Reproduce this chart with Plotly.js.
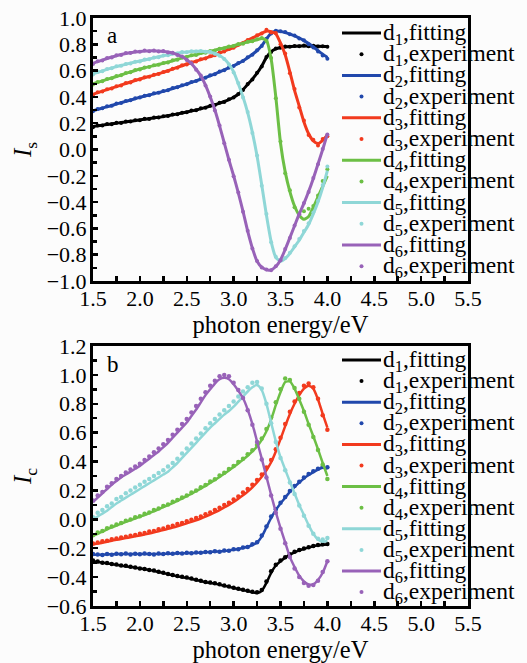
<!DOCTYPE html>
<html>
<head>
<meta charset="utf-8">
<script src="https://cdn.plot.ly/plotly-3.0.1.min.js"></script>
<style>html,body{margin:0;padding:0;background:#fcfcfc;}#chart{width:527px;height:663px;}</style>
</head>
<body>
<div id="chart"></div>
<script>
// photon energy grid (eV)
const energy = [1.50,1.55,1.60,1.65,1.70,1.75,1.80,1.85,1.90,1.95,
  2.00,2.05,2.10,2.15,2.20,2.25,2.30,2.35,2.40,2.45,
  2.50,2.55,2.60,2.65,2.70,2.75,2.80,2.85,2.90,2.95,
  3.00,3.05,3.10,3.15,3.20,3.25,3.30,3.35,3.40,3.45,
  3.50,3.55,3.60,3.65,3.70,3.75,3.80,3.85,3.90,3.95,4.00];

const seriesNames = ["d<sub>1</sub>","d<sub>2</sub>","d<sub>3</sub>","d<sub>4</sub>","d<sub>5</sub>","d<sub>6</sub>"];

// ---- panel a : I_s ----
const isFitD1 = [.175,.18,.185,.19,.195,.20,.205,.21,.215,.22,
  .225,.23,.235,.24,.245,.25,.257,.264,.27,.277,
  .285,.293,.30,.31,.32,.33,.34,.352,.365,.38,
  .397,.42,.455,.495,.535,.58,.635,.70,.745,.765,
  .775,.78,.783,.785,.787,.787,.787,.786,.785,.784,.784];
const isExpD1 = [.17,.182,.183,.193,.192,.203,.202,.213,.212,.223,
  .222,.233,.232,.243,.243,.253,.254,.267,.268,.28,
  .283,.296,.298,.313,.318,.333,.338,.355,.362,.383,
  .395,.423,.452,.498,.532,.583,.632,.703,.742,.768,
  .773,.783,.781,.788,.785,.79,.785,.789,.783,.786,.782];
const isFitD2 = [.295,.305,.315,.325,.335,.346,.356,.366,.376,.386,
  .397,.406,.415,.424,.433,.442,.453,.464,.475,.486,
  .498,.51,.522,.535,.548,.561,.575,.59,.605,.62,
  .637,.655,.675,.698,.723,.752,.79,.84,.885,.90,
  .898,.89,.878,.864,.848,.828,.806,.78,.752,.725,.70];
const isExpD2 = [.29,.308,.313,.328,.333,.349,.354,.369,.374,.389,
  .395,.409,.413,.427,.431,.445,.451,.467,.473,.489,
  .496,.513,.52,.538,.546,.564,.573,.593,.603,.623,
  .635,.658,.673,.701,.721,.755,.788,.843,.883,.903,
  .9,.893,.876,.866,.845,.83,.8,.775,.745,.715,.69];
const isFitD3 = [.42,.432,.444,.455,.467,.478,.49,.502,.513,.525,
  .536,.546,.556,.566,.577,.587,.60,.612,.625,.637,
  .65,.661,.672,.683,.695,.706,.72,.734,.748,.762,
  .777,.794,.812,.83,.848,.865,.885,.90,.895,.88,
  .81,.72,.59,.45,.33,.21,.12,.065,.045,.07,.11];
const isExpD3 = [.415,.435,.441,.458,.464,.481,.487,.505,.51,.528,
  .533,.549,.553,.569,.574,.59,.597,.615,.622,.64,
  .647,.664,.669,.686,.692,.709,.717,.737,.745,.765,
  .774,.797,.809,.833,.845,.868,.882,.91,.89,.885,
  .8,.73,.58,.46,.32,.22,.11,.075,.03,.08,.1];
const isFitD4 = [.50,.511,.522,.533,.544,.555,.567,.579,.59,.601,
  .612,.621,.63,.638,.647,.655,.665,.675,.686,.696,
  .706,.714,.722,.731,.739,.747,.756,.764,.773,.781,
  .79,.799,.808,.817,.826,.835,.845,.83,.69,.40,
  .05,-.17,-.32,-.43,-.50,-.53,-.51,-.44,-.36,-.28,-.20];
const isExpD4 = [.495,.514,.519,.536,.541,.558,.564,.582,.587,.604,
  .609,.624,.627,.641,.644,.658,.662,.678,.683,.699,
  .703,.717,.719,.734,.736,.75,.753,.767,.77,.784,
  .787,.802,.805,.82,.823,.838,.848,.825,.695,.39,
  .06,-.18,-.31,-.44,-.49,-.47,-.45,-.43,-.35,-.24,-.15];
const isFitD5 = [.575,.587,.598,.609,.62,.63,.639,.648,.657,.665,
  .673,.681,.689,.697,.705,.712,.72,.727,.733,.738,
  .742,.745,.747,.747,.745,.74,.73,.715,.69,.65,
  .59,.50,.40,.28,.13,-.05,-.27,-.50,-.70,-.82,
  -.85,-.83,-.79,-.74,-.69,-.63,-.57,-.49,-.40,-.29,-.16];
const isExpD5 = [.57,.59,.595,.612,.617,.633,.636,.651,.654,.668,
  .67,.684,.686,.7,.702,.715,.717,.73,.73,.741,
  .739,.748,.745,.75,.743,.743,.728,.713,.688,.647,
  .585,.505,.395,.285,.125,-.045,-.275,-.49,-.705,-.815,
  -.845,-.825,-.785,-.735,-.68,-.62,-.56,-.48,-.39,-.27,-.13];
const isFitD6 = [.655,.668,.68,.692,.703,.713,.722,.73,.737,.742,
  .746,.749,.75,.75,.749,.746,.741,.733,.722,.705,
  .683,.652,.61,.56,.49,.40,.30,.18,.05,-.08,
  -.20,-.33,-.47,-.62,-.75,-.85,-.895,-.915,-.915,-.89,
  -.84,-.76,-.67,-.58,-.49,-.41,-.32,-.22,-.11,.00,.12];
const isExpD6 = [.65,.671,.677,.695,.7,.716,.719,.733,.734,.745,
  .743,.752,.747,.753,.746,.749,.738,.736,.719,.708,
  .68,.655,.607,.563,.487,.403,.297,.183,.047,-.077,
  -.203,-.327,-.473,-.617,-.753,-.847,-.898,-.912,-.918,-.887,
  -.843,-.757,-.673,-.577,-.493,-.407,-.323,-.217,-.113,.003,.115];

// ---- panel b : I_c ----
const icFitD1 = [-.29,-.295,-.30,-.305,-.31,-.315,-.32,-.325,-.33,-.335,
  -.34,-.345,-.35,-.357,-.365,-.372,-.38,-.387,-.395,-.40,
  -.405,-.412,-.42,-.427,-.435,-.44,-.445,-.452,-.46,-.467,
  -.475,-.482,-.49,-.497,-.505,-.51,-.495,-.44,-.37,-.32,
  -.29,-.265,-.245,-.228,-.215,-.205,-.195,-.187,-.18,-.177,-.175];
const icExpD1 = [-.285,-.292,-.30,-.303,-.31,-.313,-.32,-.322,-.328,-.333,
  -.34,-.343,-.35,-.355,-.363,-.37,-.378,-.385,-.393,-.398,
  -.403,-.41,-.418,-.425,-.433,-.438,-.443,-.45,-.458,-.465,
  -.473,-.48,-.488,-.495,-.502,-.505,-.49,-.43,-.36,-.315,
  -.285,-.262,-.242,-.225,-.212,-.202,-.193,-.185,-.178,-.172,-.17];
const icFitD2 = [-.245,-.245,-.245,-.243,-.242,-.241,-.24,-.24,-.24,-.24,
  -.24,-.24,-.24,-.24,-.24,-.239,-.238,-.237,-.236,-.235,
  -.234,-.233,-.232,-.23,-.228,-.226,-.224,-.222,-.219,-.215,
  -.21,-.205,-.198,-.19,-.178,-.16,-.12,-.055,.01,.065,
  .11,.15,.19,.225,.255,.283,.307,.327,.345,.357,.352];
const icExpD2 = [-.24,-.243,-.247,-.24,-.245,-.238,-.242,-.236,-.243,-.238,
  -.242,-.236,-.24,-.243,-.237,-.24,-.235,-.238,-.233,-.237,
  -.232,-.235,-.229,-.232,-.226,-.228,-.221,-.224,-.216,-.217,
  -.207,-.207,-.195,-.192,-.172,-.158,-.112,-.05,.02,.07,
  .115,.155,.196,.23,.26,.29,.313,.333,.35,.365,.36];
const icFitD3 = [-.175,-.168,-.162,-.155,-.148,-.142,-.136,-.13,-.124,-.118,
  -.112,-.105,-.098,-.09,-.082,-.074,-.066,-.057,-.048,-.038,
  -.028,-.017,-.006,.006,.019,.033,.048,.064,.082,.10,
  .12,.142,.166,.192,.222,.256,.295,.34,.395,.47,
  .555,.645,.73,.80,.86,.905,.925,.905,.83,.73,.635];
const icExpD3 = [-.168,-.16,-.152,-.148,-.138,-.133,-.126,-.121,-.113,-.108,
  -.1,-.095,-.085,-.08,-.068,-.063,-.052,-.045,-.032,-.025,
  -.013,-.003,.01,.02,.035,.048,.065,.08,.1,.115,
  .138,.158,.185,.21,.24,.272,.31,.358,.41,.485,
  .565,.66,.745,.815,.875,.925,.94,.915,.835,.72,.62];
const icFitD4 = [-.115,-.10,-.085,-.07,-.056,-.043,-.03,-.018,-.006,.006,
  .018,.03,.043,.056,.07,.084,.098,.113,.128,.144,
  .16,.177,.195,.213,.232,.252,.272,.293,.315,.338,
  .362,.387,.413,.44,.47,.505,.55,.61,.69,.79,
  .88,.95,.955,.905,.83,.75,.66,.575,.485,.39,.30];
const icExpD4 = [-.11,-.092,-.08,-.062,-.05,-.035,-.025,-.01,-.002,.014,
  .022,.038,.048,.064,.075,.092,.103,.121,.133,.152,
  .165,.185,.2,.222,.238,.262,.278,.303,.322,.348,
  .37,.397,.42,.45,.478,.515,.56,.625,.705,.81,
  .9,.975,.965,.91,.835,.745,.655,.57,.48,.38,.28];
const icFitD5 = [0,.02,.04,.06,.085,.11,.13,.15,.17,.19,
  .21,.23,.25,.27,.29,.31,.33,.36,.39,.425,
  .46,.495,.53,.565,.60,.635,.665,.695,.725,.75,
  .78,.815,.85,.885,.915,.93,.895,.80,.67,.54,
  .43,.345,.26,.18,.10,.03,-.04,-.10,-.14,-.155,-.15];
const icExpD5 = [.015,.045,.065,.09,.11,.14,.155,.18,.2,.22,
  .24,.26,.28,.3,.32,.34,.365,.39,.42,.455,
  .49,.525,.56,.595,.63,.665,.695,.725,.755,.785,
  .815,.85,.885,.915,.945,.95,.905,.80,.665,.535,
  .425,.34,.255,.175,.095,.025,-.045,-.1,-.135,-.14,-.13];
const icFitD6 = [.12,.15,.18,.21,.24,.265,.29,.31,.33,.35,
  .37,.395,.42,.445,.47,.50,.53,.565,.60,.635,
  .67,.715,.76,.81,.86,.90,.94,.97,.98,.97,
  .935,.89,.84,.76,.66,.54,.42,.295,.17,.05,
  -.06,-.16,-.26,-.33,-.39,-.43,-.45,-.45,-.42,-.37,-.29];
const icExpD6 = [.13,.165,.19,.225,.25,.28,.30,.325,.345,.365,
  .385,.41,.435,.465,.49,.52,.55,.585,.62,.66,
  .695,.74,.785,.835,.88,.925,.96,.99,1.0,.99,
  .945,.895,.84,.755,.655,.535,.415,.29,.165,.045,
  -.065,-.165,-.26,-.34,-.4,-.44,-.46,-.455,-.425,-.365,-.29];

const xTickVals = [1.5,2.0,2.5,3.0,3.5,4.0,4.5,5.0,5.5];

const colors = ["#000000","#2148ac","#f23a1e","#6cbf45","#8fd7d7","#9862b8"];
const serif = "Liberation Serif, Times New Roman, serif";

const isFits = [isFitD1,isFitD2,isFitD3,isFitD4,isFitD5,isFitD6];
const isExps = [isExpD1,isExpD2,isExpD3,isExpD4,isExpD5,isExpD6];
const icFits = [icFitD1,icFitD2,icFitD3,icFitD4,icFitD5,icFitD6];
const icExps = [icExpD1,icExpD2,icExpD3,icExpD4,icExpD5,icExpD6];

const traces = [];
function addPanel(fits, exps, xa, ya, lw, ms) {
  for (let i = 0; i < 6; i++) {
    traces.push({x: energy, y: fits[i], xaxis: xa, yaxis: ya, type: 'scatter', mode: 'lines',
      name: seriesNames[i] + ',fitting', showlegend: false, hoverinfo: 'skip',
      line: {color: colors[i], width: lw, shape: 'spline', smoothing: 0.6}});
    traces.push({x: energy, y: exps[i], xaxis: xa, yaxis: ya, type: 'scatter', mode: 'markers',
      name: seriesNames[i] + ',experiment', showlegend: false, hoverinfo: 'skip',
      marker: {color: colors[i], size: ms, symbol: 'circle'}});
  }
}
addPanel(isFits, isExps, 'x', 'y', 3, 4);
addPanel(icFits, icExps, 'x2', 'y2', 2.5, 4.5);

const W = 527, H = 663;
const px = v => v / W;
const py = v => 1 - v / H;

const tickFont = {family: serif, size: 22, color: '#000'};
function xAxis(anchor, dom) {
  return {domain: dom, anchor: anchor, range: [1.5, 5.5], tickvals: xTickVals, tickformat: '.1f',
    ticks: 'inside', ticklen: 5, tickwidth: 2.5, tickcolor: '#000',
    minor: {ticks: 'inside', dtick: 0.25, tick0: 1.5, ticklen: 5, tickwidth: 2.5, tickcolor: '#000'},
    showline: true, linewidth: 3, linecolor: '#000', mirror: true, showgrid: false, zeroline: false,
    automargin: false, tickfont: tickFont, ticklabelstandoff: -4,
    title: {text: 'photon energy/eV', font: {family: serif, size: 24.5, color: '#000'}, standoff: 0}};
}
function yAxis(anchor, dom, rng, title) {
  return {domain: dom, anchor: anchor, range: rng, dtick: 0.2, tick0: 0, tickformat: '.1f',
    ticks: 'inside', ticklen: 5, tickwidth: 2.5, tickcolor: '#000',
    minor: {ticks: 'inside', dtick: 0.1, ticklen: 4, tickwidth: 2.5, tickcolor: '#000'},
    showline: true, linewidth: 3, linecolor: '#000', mirror: true, showgrid: false, zeroline: false,
    automargin: false, tickfont: tickFont, ticklabelstandoff: -1,
    title: {text: title, font: {family: serif, size: 25, color: '#000'}, standoff: 8}};
}

const xd = [px(93), px(468)];
const layout = {
  width: W, height: H,
  margin: {l: 0, r: 0, t: 0, b: 0},
  paper_bgcolor: '#fcfcfc', plot_bgcolor: '#fcfcfc',
  showlegend: false,
  font: {family: serif, color: '#000'},
  xaxis: xAxis('y', xd),
  yaxis: yAxis('x', [py(281), py(18)], [-1, 1], '<i>I</i><sub>s</sub>'),
  xaxis2: xAxis('y2', xd),
  yaxis2: yAxis('x2', [py(606), py(346)], [-0.6, 1.2], '<i>I</i><sub>c</sub>'),
  shapes: [], annotations: []
};

// panel letters
layout.annotations.push({text: 'a', xref: 'paper', yref: 'paper', x: px(105), y: py(35), xanchor: 'left', yanchor: 'middle', showarrow: false, font: {family: serif, size: 23, color: '#000'}});
layout.annotations.push({text: 'b', xref: 'paper', yref: 'paper', x: px(105), y: py(364), xanchor: 'left', yanchor: 'middle', showarrow: false, font: {family: serif, size: 23, color: '#000'}});

// hand-placed legends (one per panel)
function addLegend(y0, step) {
  for (let i = 0; i < 6; i++) {
    for (let k = 0; k < 2; k++) {
      const yy = y0 + step * (2 * i + k);
      if (k === 0) {
        layout.shapes.push({type: 'line', xref: 'paper', yref: 'paper', x0: px(342), x1: px(381), y0: py(yy), y1: py(yy), line: {color: colors[i], width: 3}});
      } else {
        layout.shapes.push({type: 'circle', xref: 'paper', yref: 'paper', x0: px(359.5), x1: px(363.5), y0: py(yy + 2), y1: py(yy - 2), fillcolor: colors[i], line: {width: 0}});
      }
      layout.annotations.push({text: seriesNames[i] + (k === 0 ? ',fitting' : ',experiment'), xref: 'paper', yref: 'paper',
        x: px(381), y: py(yy + 1), xanchor: 'left', yanchor: 'middle', showarrow: false,
        font: {family: serif, size: 23.5, color: '#000'}});
    }
  }
}
addLegend(33, 21.2);
addLegend(360, 21.1);

// sanity check of array lengths
const bad = [...isFits, ...isExps, ...icFits, ...icExps].map((a, i) => a.length !== energy.length ? i + ':' + a.length : null).filter(Boolean);
if (bad.length) layout.annotations.push({text: 'LEN ' + bad.join(' '), xref: 'paper', yref: 'paper', x: 0.5, y: 0.5, showarrow: false, font: {size: 14, color: 'magenta'}});

Plotly.newPlot('chart', traces, layout, {displayModeBar: false, staticPlot: true});
</script>
</body>
</html>
